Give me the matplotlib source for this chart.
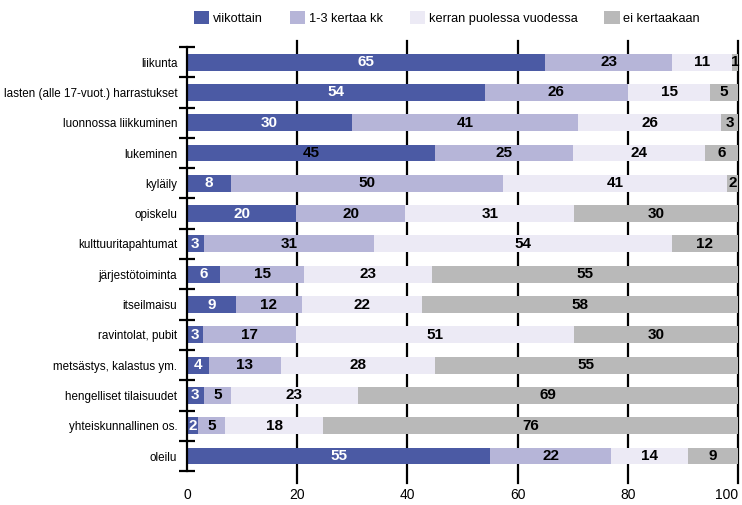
import numpy as np
import matplotlib
matplotlib.use("Agg")
import matplotlib.pyplot as plt
from matplotlib.patches import Patch

plt.rcParams['font.family'] = ['Liberation Sans', 'DejaVu Sans']

categories = ['liikunta', 'lasten (alle 17-vuot.) harrastukset', 'luonnossa liikkuminen',
              'lukeminen', 'kyläily', 'opiskelu', 'kulttuuritapahtumat', 'järjestötoiminta',
              'itseilmaisu', 'ravintolat, pubit', 'metsästys, kalastus ym.',
              'hengelliset tilaisuudet', 'yhteiskunnallinen os.', 'oleilu']
series_names = ['viikottain', '1-3 kertaa kk', 'kerran puolessa vuodessa', 'ei kertaakaan']
viikottain = [65, 54, 30, 45, 8, 20, 3, 6, 9, 3, 4, 3, 2, 55]
kertaa_kk = [23, 26, 41, 25, 50, 20, 31, 15, 12, 17, 13, 5, 5, 22]
puolessa_vuodessa = [11, 15, 26, 24, 41, 31, 54, 23, 22, 51, 28, 23, 18, 14]
ei_kertaakaan = [1, 5, 3, 6, 2, 30, 12, 55, 58, 30, 55, 69, 76, 9]
# rows where the first-segment label is printed in black
black_first_label = ['lukeminen']

colors = ['#4b5aa4', '#b6b5d8', '#eceaf5', '#b9b9b9']

values = np.array([viikottain, kertaa_kk, puolessa_vuodessa, ei_kertaakaan], dtype=float)
shares = values / values.sum(axis=0) * 100

fig = plt.figure(figsize=(7.42, 5.05), dpi=100)
ax = fig.add_axes([0.252, 0.067, 0.7426, 0.84])

y = np.arange(len(categories))
left = np.zeros(len(categories))
for k in range(4):
    ax.barh(y, shares[k], left=left, height=0.56, color=colors[k], zorder=3)
    for i in range(len(categories)):
        c = 'black'
        if k == 0 and categories[i] not in black_first_label:
            c = 'white'
        ax.text(left[i] + shares[k][i] / 2, y[i], '%d' % values[k][i], ha='center',
                va='center', fontsize=11, fontweight='bold', color=c, zorder=4)
    left += shares[k]

ax.set_xlim(0, 100)
ax.set_ylim(len(categories) - 0.5, -0.5)
ax.set_xticks([0, 20, 40, 60, 80, 100])
ax.tick_params(axis='x', length=0, labelsize=10, pad=12)
ax.get_xticklabels()[-1].set_horizontalalignment('right')
for xv in [20, 40, 60, 80, 100]:
    ax.axvline(xv, ymin=-0.027, ymax=1.015, color='black', lw=1.6, zorder=1, clip_on=False)

ax.set_yticks(y)
ax.set_yticklabels(categories, fontsize=8.4)
ax.set_yticks(np.arange(-0.5, len(categories), 1), minor=True)
ax.tick_params(axis='y', which='major', length=0, pad=7)
ax.tick_params(axis='y', which='minor', direction='inout', length=12, width=1.6)

for s in ['top', 'right', 'bottom']:
    ax.spines[s].set_visible(False)
ax.spines['left'].set_linewidth(1.6)
ax.spines['left'].set_zorder(5)

handles = [Patch(facecolor=colors[k], edgecolor='none') for k in range(4)]
fig.legend(handles, series_names, loc='center left', bbox_to_anchor=(0.261, 0.964), ncol=4,
           frameon=False, fontsize=9.2, handlelength=1.2, handleheight=1.2,
           handletextpad=0.3, columnspacing=2.1, borderaxespad=0, borderpad=0)

fig.savefig('out.png', dpi=100)
plt.close()
